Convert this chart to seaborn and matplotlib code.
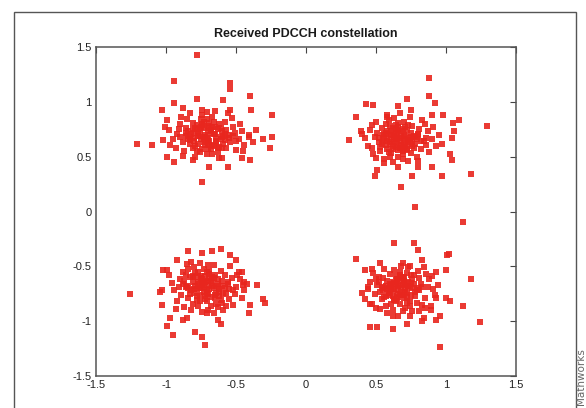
import pandas as pd
import matplotlib.pyplot as plt
import seaborn as sns
from matplotlib.patches import Rectangle

# Points reçus (I = réel, Q = imaginaire)
tl_i = [-0.94, -0.54, -0.54, -0.40, -0.59, -0.78, -0.94, -1.03, -0.88, -0.74, -0.54, -0.39, -0.24,
        -0.99, -1.01, -1.21, -1.10, -1.02, -0.31, -0.24, -0.26, -0.41, -0.94, -0.81, -0.69, -0.56,
        -0.46, -0.40, -0.74, -0.99, -0.60, -0.78,
        -0.72, -0.68, -0.75, -0.80, -0.64, -0.70, -0.77, -0.66, -0.83, -0.60,
        -0.73, -0.86, -0.58, -0.69, -0.78, -0.62, -0.74, -0.88, -0.55, -0.81,
        -0.67, -0.92, -0.52, -0.71, -0.85, -0.57, -0.63, -0.90, -0.48, -0.79,
        -0.95, -0.46, -0.65, -0.83, -0.50, -0.76, -0.70, -0.61, -0.87, -0.44,
        -0.98, -0.53, -0.74, -0.68, -0.80, -0.59, -0.72, -0.84, -0.66, -0.77,
        -0.41, -0.93, -0.56, -0.89, -0.62, -0.73, -0.69, -0.81, -0.54, -0.47,
        -0.97, -0.38, -0.76, -0.64, -0.70, -0.86, -0.60, -0.51, -0.79, -0.67,
        -0.75, -0.91, -0.45, -0.58, -0.83, -0.71, -0.63, -0.88, -0.36, -0.50,
        -0.71, -0.65, -0.78, -0.69, -0.74, -0.61, -0.82, -0.67, -0.73, -0.57,
        -0.76, -0.63, -0.70, -0.84, -0.59, -0.66, -0.79, -0.72, -0.68, -0.75,
        -0.62, -0.80, -0.55, -0.86, -0.69, -0.77, -0.64, -0.71, -0.58, -0.81,
        -0.67, -0.74, -0.52, -0.90, -0.60, -0.78, -0.70, -0.65, -0.83, -0.73]
tl_q = [1.19, 1.17, 1.12, 1.05, 1.02, 1.03, 0.99, 0.93, 0.94, 0.93, 0.93, 0.93, 0.88,
        0.83, 0.77, 0.62, 0.61, 0.65, 0.66, 0.68, 0.58, 0.68, 0.45, 0.47, 0.41, 0.41,
        0.49, 0.47, 0.27, 0.50, 0.49, 1.43,
        0.70, 0.74, 0.66, 0.72, 0.68, 0.78, 0.62, 0.60, 0.68, 0.73,
        0.82, 0.76, 0.65, 0.64, 0.79, 0.80, 0.57, 0.63, 0.70, 0.58,
        0.86, 0.71, 0.77, 0.52, 0.84, 0.58, 0.54, 0.80, 0.66, 0.50,
        0.66, 0.73, 0.92, 0.90, 0.56, 0.74, 0.67, 0.76, 0.55, 0.61,
        0.74, 0.85, 0.88, 0.57, 0.64, 0.62, 0.61, 0.73, 0.71, 0.69,
        0.70, 0.58, 0.90, 0.86, 0.49, 0.76, 0.81, 0.81, 0.63, 0.80,
        0.61, 0.63, 0.54, 0.63, 0.73, 0.69, 0.68, 0.72, 0.76, 0.52,
        0.84, 0.75, 0.55, 0.82, 0.62, 0.91, 0.58, 0.51, 0.74, 0.64,
        0.66, 0.71, 0.75, 0.61, 0.79, 0.66, 0.71, 0.77, 0.63, 0.74,
        0.69, 0.75, 0.57, 0.66, 0.69, 0.82, 0.60, 0.68, 0.72, 0.77,
        0.59, 0.67, 0.67, 0.72, 0.76, 0.72, 0.64, 0.84, 0.71, 0.75,
        0.61, 0.80, 0.69, 0.68, 0.58, 0.55, 0.62, 0.77, 0.65, 0.68]

tr_i = [0.88, 0.88, 0.72, 0.92, 0.43, 0.48, 0.66, 0.75, 0.36, 0.90, 0.98, 0.58, 1.09, 1.05,
        1.29, 0.31, 0.39, 1.06, 1.04, 0.97, 0.47, 1.03, 1.04, 0.51, 0.49, 0.76, 0.97, 1.18,
        0.90, 0.80, 0.68, 0.78, 0.56, 0.66,
        0.67, 0.63, 0.71, 0.60, 0.74, 0.65, 0.58, 0.69, 0.78, 0.55,
        0.62, 0.72, 0.52, 0.80, 0.66, 0.57, 0.75, 0.49, 0.84, 0.61,
        0.70, 0.53, 0.87, 0.64, 0.76, 0.46, 0.59, 0.68, 0.82, 0.56,
        0.73, 0.50, 0.90, 0.63, 0.79, 0.44, 0.66, 0.71, 0.60, 0.85,
        0.54, 0.77, 0.68, 0.48, 0.93, 0.58, 0.74, 0.62, 0.81, 0.65,
        0.57, 0.70, 0.51, 0.88, 0.64, 0.42, 0.76, 0.60, 0.83, 0.69,
        0.55, 0.72, 0.47, 0.95, 0.61, 0.78, 0.66, 0.53, 0.86, 0.73,
        0.59, 0.40, 0.67, 0.80, 0.50, 0.63, 0.75, 0.56, 0.91, 0.69,
        0.65, 0.70, 0.61, 0.73, 0.68, 0.58, 0.76, 0.64, 0.71, 0.62,
        0.67, 0.57, 0.74, 0.69, 0.60, 0.79, 0.66, 0.72, 0.54, 0.63,
        0.70, 0.77, 0.59, 0.68, 0.82, 0.64, 0.56, 0.73, 0.66, 0.61,
        0.75, 0.69, 0.52, 0.62, 0.80, 0.71, 0.58, 0.67, 0.64, 0.86]
tr_q = [1.22, 1.05, 1.03, 0.99, 0.98, 0.97, 0.96, 0.93, 0.86, 0.88, 0.88, 0.86, 0.83, 0.81,
        0.78, 0.65, 0.73, 0.73, 0.67, 0.62, 0.58, 0.52, 0.47, 0.38, 0.32, 0.32, 0.32, 0.34,
        0.41, 0.41, 0.22, 0.04, 0.44, 0.41,
        0.64, 0.68, 0.60, 0.62, 0.67, 0.72, 0.57, 0.55, 0.62, 0.70,
        0.76, 0.74, 0.63, 0.70, 0.50, 0.80, 0.53, 0.68, 0.64, 0.53,
        0.82, 0.55, 0.73, 0.59, 0.78, 0.74, 0.66, 0.69, 0.57, 0.48,
        0.46, 0.82, 0.66, 0.85, 0.50, 0.60, 0.77, 0.65, 0.71, 0.80,
        0.76, 0.58, 0.61, 0.52, 0.60, 0.88, 0.86, 0.45, 0.75, 0.66,
        0.61, 0.70, 0.72, 0.54, 0.79, 0.67, 0.63, 0.50, 0.83, 0.48,
        0.64, 0.57, 0.79, 0.70, 0.73, 0.68, 0.56, 0.59, 0.61, 0.79,
        0.83, 0.71, 0.90, 0.46, 0.49, 0.63, 0.72, 0.67, 0.77, 0.75,
        0.61, 0.66, 0.70, 0.63, 0.58, 0.64, 0.60, 0.75, 0.69, 0.57,
        0.67, 0.72, 0.65, 0.61, 0.78, 0.66, 0.74, 0.56, 0.62, 0.69,
        0.59, 0.69, 0.54, 0.73, 0.64, 0.66, 0.71, 0.62, 0.81, 0.63,
        0.68, 0.52, 0.67, 0.60, 0.71, 0.77, 0.73, 0.58, 0.71, 0.67]

bl_i = [-1.26, -0.84, -0.61, -0.74, -0.67, -0.54, -0.92, -0.82, -0.50, -1.02, -0.99, -0.46,
        -0.44, -0.45, -0.35, -1.04, -1.03, -0.31, -0.29, -0.40, -0.41, -1.03, -0.97, -0.88,
        -0.85, -0.63, -0.61, -0.71, -0.99, -0.95, -0.79, -0.74, -0.72,
        -0.74, -0.70, -0.78, -0.66, -0.81, -0.72, -0.76, -0.63, -0.86, -0.68,
        -0.60, -0.79, -0.84, -0.57, -0.73, -0.90, -0.64, -0.53, -0.77, -0.88,
        -0.69, -0.61, -0.94, -0.50, -0.82, -0.71, -0.55, -0.66, -0.85, -0.47,
        -0.92, -0.75, -0.62, -0.80, -0.58, -0.70, -0.96, -0.44, -0.67, -0.83,
        -0.52, -0.76, -0.89, -0.59, -0.73, -0.65, -0.79, -0.48, -0.87, -0.56,
        -0.71, -0.98, -0.62, -0.78, -0.42, -0.68, -0.84, -0.54, -0.91, -0.74,
        -0.60, -0.81, -0.46, -0.69, -0.77, -0.64, -0.86, -0.51, -0.72, -0.93,
        -0.57, -0.80, -0.66, -0.49, -0.75, -0.88, -0.61, -0.70, -0.83, -0.55,
        -0.73, -0.67, -0.79, -0.71, -0.63, -0.76, -0.69, -0.82, -0.65, -0.74,
        -0.58, -0.72, -0.77, -0.68, -0.85, -0.62, -0.70, -0.75, -0.60, -0.80,
        -0.66, -0.73, -0.56, -0.78, -0.69, -0.64, -0.87, -0.71, -0.76, -0.59,
        -0.81, -0.67, -0.74, -0.63, -0.52, -0.70, -0.77, -0.65, -0.84, -0.72]
bl_q = [-0.75, -0.36, -0.34, -0.38, -0.36, -0.40, -0.44, -0.46, -0.44, -0.53, -0.53, -0.55,
        -0.64, -0.67, -0.67, -0.73, -0.72, -0.80, -0.83, -0.85, -0.93, -0.85, -0.97, -0.99,
        -0.97, -0.99, -1.03, -0.93, -1.04, -1.13, -1.10, -1.14, -1.22,
        -0.67, -0.63, -0.71, -0.70, -0.64, -0.59, -0.76, -0.62, -0.69, -0.78,
        -0.68, -0.56, -0.79, -0.74, -0.52, -0.62, -0.84, -0.61, -0.86, -0.55,
        -0.71, -0.54, -0.72, -0.69, -0.90, -0.82, -0.80, -0.49, -0.48, -0.62,
        -0.82, -0.61, -0.77, -0.74, -0.58, -0.90, -0.65, -0.72, -0.65, -0.60,
        -0.85, -0.47, -0.76, -0.90, -0.73, -0.58, -0.68, -0.55, -0.87, -0.66,
        -0.55, -0.58, -0.71, -0.81, -0.66, -0.86, -0.52, -0.50, -0.69, -0.92,
        -0.63, -0.84, -0.79, -0.61, -0.64, -0.74, -0.58, -0.75, -0.77, -0.89,
        -0.86, -0.51, -0.93, -0.58, -0.70, -0.66, -0.81, -0.49, -0.75, -0.71,
        -0.64, -0.68, -0.60, -0.74, -0.66, -0.70, -0.57, -0.72, -0.76, -0.62,
        -0.70, -0.80, -0.66, -0.63, -0.68, -0.73, -0.75, -0.59, -0.83, -0.71,
        -0.61, -0.69, -0.64, -0.77, -0.54, -0.68, -0.63, -0.72, -0.82, -0.75,
        -0.59, -0.60, -0.66, -0.87, -0.72, -0.67, -0.55, -0.79, -0.70, -0.64]

br_i = [1.12, 1.02, 1.18, 1.24, 0.36, 0.63, 0.77, 0.80, 1.01, 0.42, 0.47, 0.53, 0.69, 0.74,
        0.83, 1.00, 0.93, 0.44, 0.93, 1.00, 1.03, 1.12, 0.46, 0.89, 0.85, 0.62, 0.66, 0.96,
        0.93, 0.84, 0.83, 0.46, 0.51, 0.62, 0.72, 0.96,
        0.68, 0.64, 0.72, 0.61, 0.75, 0.66, 0.58, 0.70, 0.79, 0.55,
        0.63, 0.74, 0.52, 0.82, 0.67, 0.57, 0.77, 0.49, 0.85, 0.60,
        0.71, 0.54, 0.88, 0.65, 0.76, 0.46, 0.59, 0.69, 0.83, 0.56,
        0.73, 0.50, 0.91, 0.62, 0.80, 0.44, 0.67, 0.71, 0.60, 0.86,
        0.53, 0.78, 0.66, 0.48, 0.94, 0.58, 0.74, 0.63, 0.81, 0.65,
        0.57, 0.70, 0.51, 0.89, 0.64, 0.42, 0.76, 0.61, 0.84, 0.69,
        0.55, 0.73, 0.47, 0.92, 0.62, 0.79, 0.67, 0.53, 0.87, 0.72,
        0.59, 0.40, 0.68, 0.81, 0.50, 0.63, 0.75, 0.56, 0.90, 0.70,
        0.66, 0.71, 0.62, 0.74, 0.69, 0.58, 0.77, 0.65, 0.72, 0.60,
        0.68, 0.55, 0.73, 0.70, 0.63, 0.80, 0.67, 0.61, 0.75, 0.64,
        0.71, 0.57, 0.78, 0.66, 0.52, 0.69, 0.74, 0.62, 0.83, 0.68,
        0.59, 0.76, 0.65, 0.70, 0.54, 0.72, 0.67, 0.81, 0.63, 0.73]
br_q = [-0.10, -0.39, -0.62, -1.01, -0.43, -0.29, -0.29, -0.35, -0.40, -0.53, -0.52, -0.47,
        -0.47, -0.50, -0.44, -0.53, -0.55, -0.69, -0.79, -0.79, -0.82, -0.86, -0.84, -0.90,
        -0.88, -0.95, -0.95, -0.95, -0.99, -0.97, -1.00, -1.05, -1.05, -1.07, -1.03, -1.24,
        -0.70, -0.66, -0.74, -0.72, -0.65, -0.78, -0.63, -0.60, -0.72, -0.69,
        -0.81, -0.82, -0.60, -0.66, -0.55, -0.86, -0.58, -0.75, -0.79, -0.57,
        -0.88, -0.80, -0.62, -0.62, -0.91, -0.64, -0.76, -0.67, -0.85, -0.52,
        -0.51, -0.88, -0.71, -0.90, -0.54, -0.71, -0.84, -0.69, -0.66, -0.57,
        -0.73, -0.77, -0.72, -0.56, -0.67, -0.93, -0.95, -0.53, -0.61, -0.75,
        -0.68, -0.79, -0.67, -0.86, -0.59, -0.80, -0.70, -0.84, -0.51, -0.91,
        -0.61, -0.64, -0.84, -0.76, -0.77, -0.83, -0.63, -0.89, -0.69, -0.56,
        -0.70, -0.74, -0.50, -0.91, -0.62, -0.71, -0.76, -0.78, -0.59, -0.73,
        -0.67, -0.73, -0.64, -0.69, -0.76, -0.71, -0.66, -0.62, -0.78, -0.74,
        -0.60, -0.72, -0.68, -0.63, -0.80, -0.70, -0.75, -0.67, -0.58, -0.82,
        -0.65, -0.77, -0.73, -0.68, -0.64, -0.61, -0.86, -0.71, -0.69, -0.76,
        -0.74, -0.62, -0.79, -0.66, -0.70, -0.83, -0.58, -0.72, -0.65, -0.68]

df = pd.DataFrame({
    "I": tl_i + tr_i + bl_i + br_i,
    "Q": tl_q + tr_q + bl_q + br_q,
})

sns.set_style("white")
plt.rcParams["font.family"] = ["Liberation Sans", "DejaVu Sans"]

fig = plt.figure(figsize=(5.86, 4.08), dpi=100)
ax = fig.add_axes([96 / 586, 32 / 408, 420 / 586, 329 / 408])

sns.scatterplot(data=df, x="I", y="Q", ax=ax, color="#e8261e", marker="s",
                s=15, linewidth=0, alpha=0.9)

ax.set_xlim(-1.5, 1.5)
ax.set_ylim(-1.5, 1.5)
ax.set_xticks([-1.5, -1, -0.5, 0, 0.5, 1, 1.5])
ax.set_xticklabels(["-1.5", "-1", "-0.5", "0", "0.5", "1", "1.5"])
ax.set_yticks([-1.5, -1, -0.5, 0, 0.5, 1, 1.5])
ax.set_yticklabels(["-1.5", "-1", "-0.5", "0", "0.5", "1", "1.5"])
ax.set_xlabel("")
ax.set_ylabel("")
ax.tick_params(direction="in", length=4, width=0.8, color="#444444",
               top=True, right=True, labelsize=8, labelcolor="#222222", pad=3)
for sp in ax.spines.values():
    sp.set_color("#555555")
    sp.set_linewidth(1.1)
ax.set_title("Received PDCCH constellation", fontsize=9, fontweight="bold",
             color="#1a1a1a", pad=7)

# cadre extérieur et filigrane
fig.patches.append(Rectangle((14 / 586, -0.05), 562 / 586, 1.05 - 12 / 408,
                             transform=fig.transFigure, fill=False,
                             edgecolor="#555555", linewidth=1.0))
fig.text(581 / 586, 3 / 408, "Mathworks", rotation=90, ha="center", va="bottom",
         fontsize=7.5, color="#666666", family="DejaVu Sans")

plt.savefig("out.png", dpi=100)
